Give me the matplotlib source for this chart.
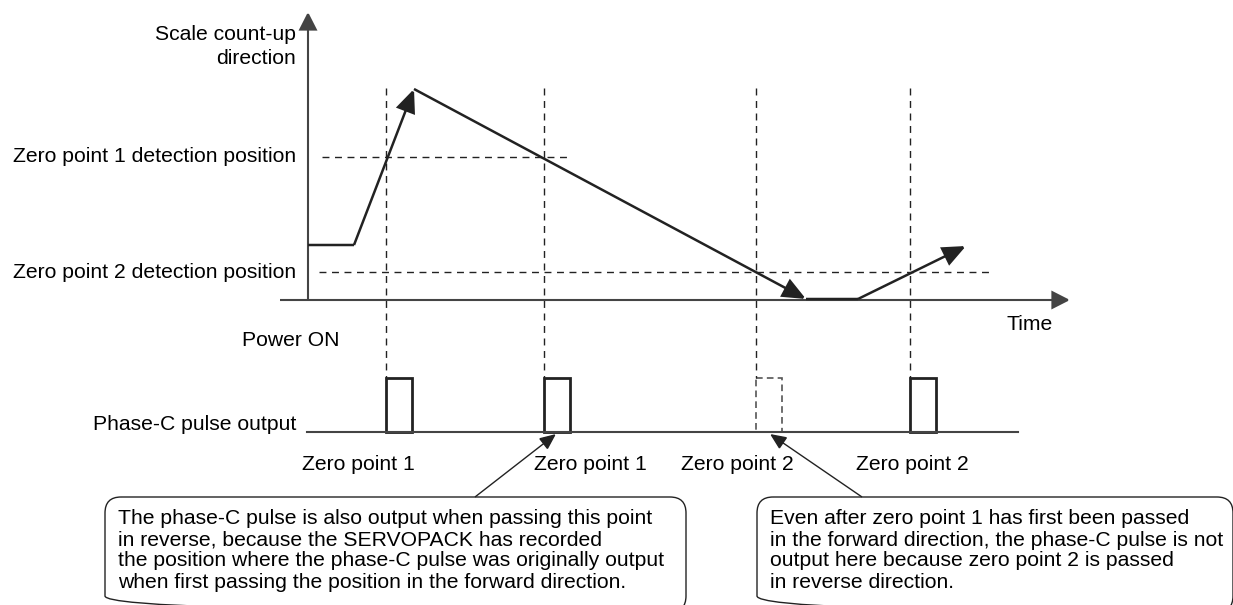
import matplotlib.pyplot as plt
from matplotlib.patches import FancyArrowPatch, FancyBboxPatch, Rectangle

# %% data (diagram units = pixel positions of the reference)

# motion of the scale: time vs. position (screen y grows downward)
motion_t = [308, 354, 414, 806, 858, 966]
motion_pos = [245, 245, 89, 299, 299, 246]
# segments that end with an arrow head
motion_heads = [False, True, True, False, True]

# detection positions (level, dashed line start / end)
level_names = ["Zero point 1 detection position", "Zero point 2 detection position"]
level_pos = [157, 272]
level_t_start = [322, 319]
level_t_end = [570, 993]

# moments where a zero point is passed -> phase-C pulse
pulse_t = [386, 544, 756, 910]
pulse_output = [True, True, False, True]
pulse_names = ["Zero point 1", "Zero point 1", "Zero point 2", "Zero point 2"]
label_x = [358, 590, 737, 912]
pulse_width = 26

note_left = ["The phase-C pulse is also output when passing this point",
             "in reverse, because the SERVOPACK has recorded",
             "the position where the phase-C pulse was originally output",
             "when first passing the position in the forward direction."]
note_right = ["Even after zero point 1 has first been passed",
              "in the forward direction, the phase-C pulse is not",
              "output here because zero point 2 is passed",
              "in reverse direction."]
note_line_y = [518, 540, 561, 583]

# %% figure

plt.rcParams["font.family"] = ["Liberation Sans", "DejaVu Sans"]
fs = 15.2
fig = plt.figure(figsize=(12.33, 6.05), dpi=100)
ax = fig.add_axes([0, 0, 1, 1])
ax.set_xlim(0, 1233)
ax.set_ylim(605, 0)
ax.axis("off")

dark = "#222222"
axis_c = "#444444"


def arrow(p0, p1, lw=1.6, color=dark, head=True, hl=0.55, hw=0.28):
    style = f"-|>,head_length={hl},head_width={hw}" if head else "-"
    ax.add_patch(FancyArrowPatch(p0, p1, arrowstyle=style, mutation_scale=20,
                                 lw=lw, color=color, shrinkA=0, shrinkB=0,
                                 joinstyle="miter", capstyle="butt"))


# axes of the upper diagram
axis_y0 = 300
arrow((308, axis_y0), (308, 12), lw=1.5, color=axis_c)
arrow((280, axis_y0), (1070, axis_y0), lw=1.5, color=axis_c)
ax.text(296, 34, "Scale count-up", ha="right", va="center", fontsize=fs)
ax.text(296, 58, "direction", ha="right", va="center", fontsize=fs)
ax.text(1030, 325, "Time", ha="center", va="center", fontsize=fs)
ax.text(291, 340, "Power ON", ha="center", va="center", fontsize=fs)

# detection levels
for name, yp, t0, t1 in zip(level_names, level_pos, level_t_start, level_t_end):
    ax.plot([t0, t1], [yp, yp], ls=(0, (5, 4)), lw=1, color=dark)
    ax.text(296, yp, name, ha="right", va="center", fontsize=fs)

# scale motion
for i in range(len(motion_t) - 1):
    arrow((motion_t[i], motion_pos[i]), (motion_t[i + 1], motion_pos[i + 1]),
          lw=1.8, head=motion_heads[i], hl=0.7, hw=0.3)

# phase-C pulse output
base_y = 432
pulse_top = 378
ax.plot([307, 1018], [base_y, base_y], lw=1.5, color=axis_c)
ax.text(296, 424, "Phase-C pulse output", ha="right", va="center", fontsize=fs)
for tp, out in zip(pulse_t, pulse_output):
    ax.plot([tp, tp], [88, pulse_top], ls=(0, (5, 4)), lw=1, color=dark)
    ax.add_patch(Rectangle((tp, pulse_top), pulse_width, base_y - pulse_top,
                           fill=False, ec=dark if out else "#555555",
                           lw=2 if out else 1.2,
                           ls="-" if out else (0, (4, 2.5))))

for lx, name in zip(label_x, pulse_names):
    ax.text(lx, 465, name, ha="center", va="center", fontsize=fs)

# callouts
ax.add_patch(FancyBboxPatch((105, 497), 581, 115,
                            boxstyle="round,pad=0,rounding_size=16",
                            fill=False, ec=dark, lw=1))
ax.add_patch(FancyBboxPatch((757, 497), 476, 115,
                            boxstyle="round,pad=0,rounding_size=16",
                            fill=False, ec=dark, lw=1))
for ly, left, right in zip(note_line_y, note_left, note_right):
    ax.text(118, ly, left, ha="left", va="center", fontsize=fs)
    ax.text(770, ly, right, ha="left", va="center", fontsize=fs)
arrow((475, 497), (556, 434), lw=1, hl=0.5, hw=0.22)
arrow((862, 497), (770, 434), lw=1, hl=0.5, hw=0.22)

fig.savefig("out.png", dpi=100)
